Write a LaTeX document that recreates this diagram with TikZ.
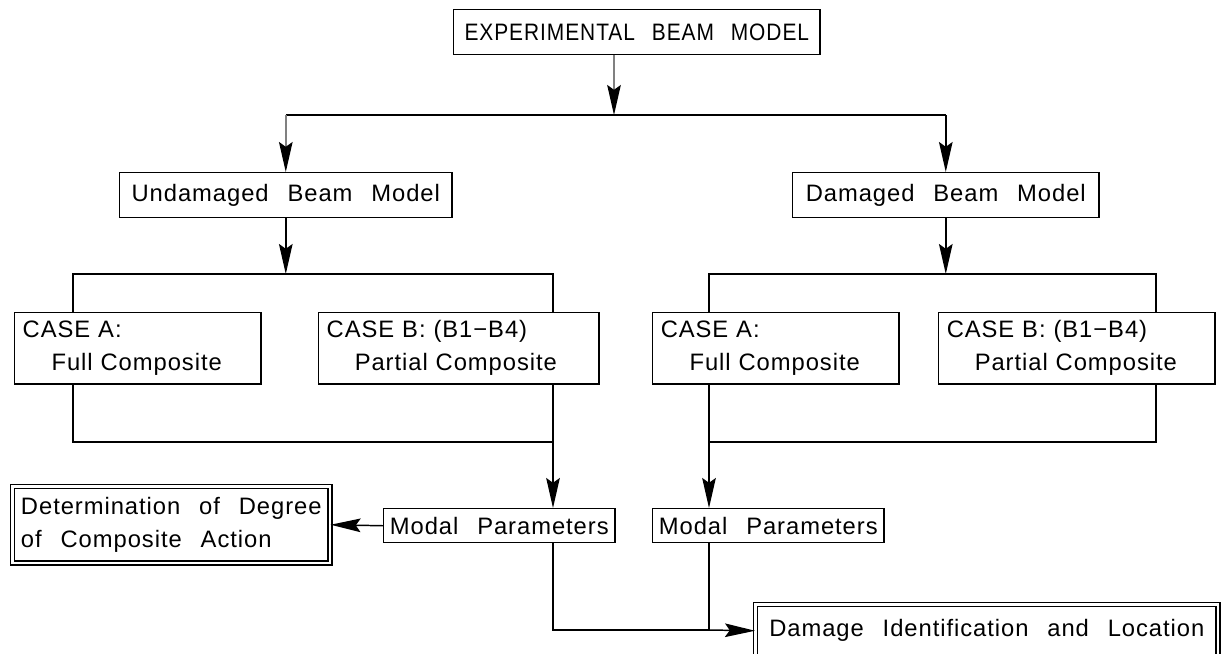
\documentclass[tikz,border=0pt]{standalone}
\usepackage{fontspec}
\setmainfont[WordSpace=2.5,LetterSpace=4]{Liberation Sans}
\newfontfamily\capsfont[WordSpace=2.5,LetterSpace=4,FakeStretch=0.88]{Liberation Sans}
\usetikzlibrary{arrows.meta,positioning}

\tikzset{
  box/.style={draw, inner sep=0pt, anchor=north west, minimum height=1.125cm,
    font=\fontsize{16.9}{23.4}\selectfont},
  casebox/.style={box, align=left, inner xsep=0.2cm, minimum height=1.775cm},
  modalbox/.style={box, minimum width=5.775cm, minimum height=0.85cm},
  resultbox/.style={box, double, double distance=1.8pt, align=left},
  arr/.style={-{Stealth[length=7.5mm,width=3.4mm,inset=1.2mm]}},
  grayarr/.style={draw=gray, -{Stealth[length=7.5mm,width=3.4mm,inset=1.2mm,color=black]}}
}

\begin{document}
\begin{tikzpicture}[x=0.025cm, y=-0.025cm, line width=1.05pt]
\useasboundingbox (0,0) rectangle (1222,653);

% Boxes
\node[box, minimum width=9.15cm, font=\capsfont\fontsize{16.9}{23.4}\selectfont]
  (exp) at (453,9) {EXPERIMENTAL BEAM MODEL};
\node[box, minimum width=8.3cm]  (undam) at (119,172) {Undamaged Beam Model};
\node[box, minimum width=7.65cm] (dam)   at (792,172) {Damaged Beam Model};

\node[casebox, text width=5.75cm] (uA) at (14,312)
  {CASE A:\\\hspace*{0.72cm}Full Composite};
\node[casebox, text width=6.6cm]  (uB) at (318,312)
  {CASE B: (B1−B4)\\\hspace*{0.7cm}Partial Composite};
\node[casebox, text width=5.75cm] (dA) at (652,312)
  {CASE A:\\\hspace*{0.72cm}Full Composite};
\node[casebox, text width=6.5cm]  (dB) at (938,312)
  {CASE B: (B1−B4)\\\hspace*{0.7cm}Partial Composite};

\node[modalbox] (umodal) at (383,508) {Modal Parameters};
\node[modalbox] (dmodal) at (652,508) {Modal Parameters};

\node[resultbox, minimum width=7.925cm, minimum height=1.9cm] (degree) at (12,486)
  {Determination of Degree\\of Composite Action};
\node[resultbox, minimum width=11.55cm, minimum height=1.3cm] (damage) at (755,604)
  {Damage Identification and Location};

% Branch points
\coordinate (top)  at (614,115);
\coordinate (ul)   at (73,274);
\coordinate (ur)   at (553,274);
\coordinate (ubot) at (553,442);
\coordinate (dl)   at (709,274);
\coordinate (dr)   at (1156,274);
\coordinate (dbot) at (709,442);
\coordinate (join) at (709,630);

% Connectors
\draw[grayarr] (exp.south -| top) -- (top);
\draw (undam.north |- top) -- (dam.north |- top);
\draw[grayarr] (undam.north |- top) -- (undam.north);
\draw[arr] (dam.north |- top) -- (dam.north);

\draw[arr] (undam.south) -- (undam.south |- ul);
\draw (ul |- uA.north) -- (ul) -- (ur) -- (ur |- uB.north);
\draw (ul |- uA.south) -- (ul |- ubot) -- (ubot);
\draw[arr] (uB.south -| ubot) -- (umodal.north -| ubot);

\draw[arr] (dam.south) -- (dam.south |- dl);
\draw (dl |- dA.north) -- (dl) -- (dr) -- (dr |- dB.north);
\draw (dr |- dB.south) -- (dr |- dbot) -- (dbot);
\draw[arr] (dA.south -| dbot) -- (dmodal.north -| dbot);

\draw[arr] (umodal.west) -- (degree.east);
\draw (umodal.south -| ubot) -- (ubot |- join) -- (join);
\draw (dmodal.south -| join) -- (join);
\draw[arr] (join) -- (damage.west);

\end{tikzpicture}
\end{document}
